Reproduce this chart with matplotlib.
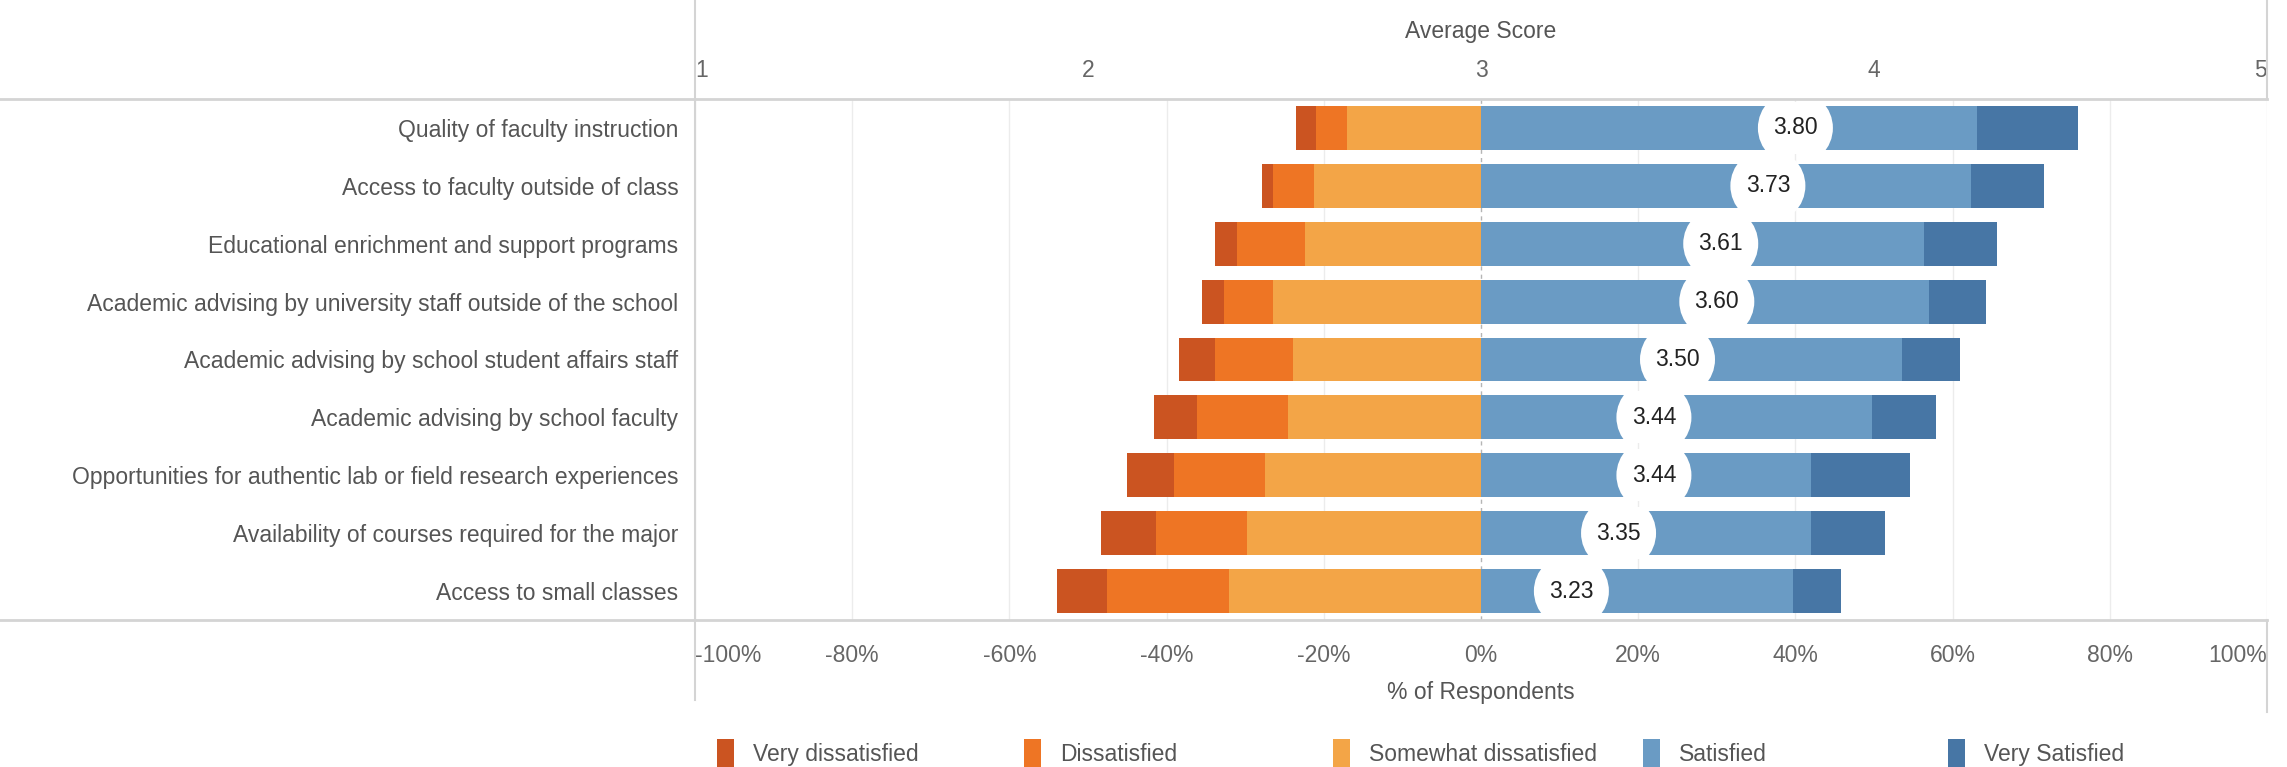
import matplotlib
matplotlib.use("Agg")
import matplotlib.pyplot as plt
from matplotlib.lines import Line2D
from matplotlib.patches import Patch, Rectangle

plt.rcParams["font.family"] = ["Liberation Sans", "DejaVu Sans"]

W, H = 2287, 767
DPI = 100

categories = [
    "Quality of faculty instruction",
    "Access to faculty outside of class",
    "Educational enrichment and support programs",
    "Academic advising by university staff outside of the school",
    "Academic advising by school student affairs staff",
    "Academic advising by school faculty",
    "Opportunities for authentic lab or field research experiences",
    "Availability of courses required for the major",
    "Access to small classes",
]
very_dissatisfied = [2.6, 1.5, 2.8, 2.8, 4.5, 5.5, 6.1, 7.0, 6.4]
dissatisfied = [4.0, 5.2, 8.6, 6.3, 10.0, 11.5, 11.5, 11.6, 15.6]
somewhat_dissatisfied = [17.0, 21.2, 22.4, 26.4, 23.9, 24.6, 27.5, 29.8, 32.0]
satisfied = [63.1, 62.4, 56.3, 57.0, 53.6, 49.8, 42.0, 42.0, 39.7]
very_satisfied = [12.8, 9.2, 9.4, 7.2, 7.4, 8.1, 12.6, 9.4, 6.1]
avg_score = [3.80, 3.73, 3.61, 3.60, 3.50, 3.44, 3.44, 3.35, 3.23]

series_names = ["Very dissatisfied", "Dissatisfied", "Somewhat dissatisfied",
                "Satisfied", "Very Satisfied"]
colors = ["#CB5421", "#EE7524", "#F3A547", "#6A9BC4", "#4776A5"]

pct_ticks = list(range(-100, 101, 20))
score_ticks = [1, 2, 3, 4, 5]

LINE_C = "#d4d4d4"
TICK_C = "#666666"
LABEL_C = "#555555"
FS = 16.5


def fx(px):
    return px / W


def fy(py):
    return 1 - py / H


fig = plt.figure(figsize=(W / DPI, H / DPI), dpi=DPI)

# bar pane
left, right, top, bottom = 695, 2267, 99, 620
ax = fig.add_axes([fx(left), fy(bottom), fx(right - left), (bottom - top) / H])
rows = list(range(len(categories)))
bar_h = 0.76

# negative side: stack outward from zero
neg_sd = [-v for v in somewhat_dissatisfied]
neg_d = [-(a + b) for a, b in zip(somewhat_dissatisfied, dissatisfied)]
ax.barh(rows, neg_sd, height=bar_h, color=colors[2], zorder=2)
ax.barh(rows, [-v for v in dissatisfied], left=neg_sd, height=bar_h, color=colors[1], zorder=2)
ax.barh(rows, [-v for v in very_dissatisfied], left=neg_d, height=bar_h, color=colors[0], zorder=2)
ax.barh(rows, satisfied, height=bar_h, color=colors[3], zorder=2)
ax.barh(rows, very_satisfied, left=satisfied, height=bar_h, color=colors[4], zorder=2)

ax.set_xlim(-100, 100)
ax.set_ylim(len(categories) - 0.5, -0.5)
for s in ax.spines.values():
    s.set_visible(False)

for t in pct_ticks:
    if t == 0:
        ax.axvline(t, color="#b5b5b5", lw=1, ls=(0, (3, 3)), zorder=1)
    else:
        ax.axvline(t, color="#ececec", lw=1, zorder=1)

ax.set_yticks(rows)
ax.set_yticklabels(categories, fontsize=FS, color=LABEL_C)
ax.tick_params(axis="y", length=0, pad=12)

ax.set_xticks(pct_ticks)
ax.set_xticklabels([f"{t}%" for t in pct_ticks], fontsize=FS, color=TICK_C)
ax.tick_params(axis="x", length=0, pad=17)
xl = ax.get_xticklabels()
xl[0].set_ha("left")
xl[-1].set_ha("right")
ax.set_xlabel("% of Respondents", fontsize=FS, color=LABEL_C, labelpad=10)

# average score axis on top
ax_top = ax.twiny()
ax_top.set_xlim(score_ticks[0], score_ticks[-1])
for s in ax_top.spines.values():
    s.set_visible(False)
ax_top.set_xticks(score_ticks)
ax_top.set_xticklabels([str(t) for t in score_ticks], fontsize=FS, color=TICK_C)
ax_top.tick_params(axis="x", length=0, pad=12)
tl = ax_top.get_xticklabels()
tl[0].set_ha("left")
tl[-1].set_ha("right")
ax_top.set_xlabel("Average Score", fontsize=FS, color=LABEL_C, labelpad=15)

# score circles, clipped to their own row band
diam_pt = 75 * 72 / DPI
for r, v in zip(rows, avg_score):
    dot = ax_top.scatter([v], [r], s=diam_pt ** 2, color="white", edgecolor="none", zorder=4)
    band = Rectangle((score_ticks[0], r - 0.45), score_ticks[-1] - score_ticks[0], 0.9,
                     transform=ax_top.transData)
    dot.set_clip_path(band)
    ax_top.text(v, r, f"{v:.2f}", ha="center", va="center", fontsize=16.5, color="#222222", zorder=5)

# pane borders
fig.add_artist(Line2D([0, fx(right)], [fy(top), fy(top)], color=LINE_C, lw=2))
fig.add_artist(Line2D([0, fx(right)], [fy(bottom), fy(bottom)], color=LINE_C, lw=2))
fig.add_artist(Line2D([fx(left), fx(left)], [fy(0), fy(700)], color=LINE_C, lw=1.5))
fig.add_artist(Line2D([fx(right), fx(right)], [fy(0), fy(top)], color=LINE_C, lw=1.5))
fig.add_artist(Line2D([fx(right), fx(right)], [fy(bottom), fy(712)], color=LINE_C, lw=1.5))

# legend with fixed-width columns
legend_x = [716, 1023, 1332, 1642, 1947]
for name, c, x in zip(series_names, colors, legend_x):
    leg = fig.legend(handles=[Patch(facecolor=c, edgecolor="none", label=name)],
                     loc="center left", bbox_to_anchor=(fx(x + 1), fy(753)),
                     frameon=False, fontsize=FS, handlelength=0.72, handleheight=1.45,
                     handletextpad=0.85, borderpad=0, borderaxespad=0)
    for t in leg.get_texts():
        t.set_color(LABEL_C)

fig.savefig("out.png", dpi=DPI, facecolor="white")
